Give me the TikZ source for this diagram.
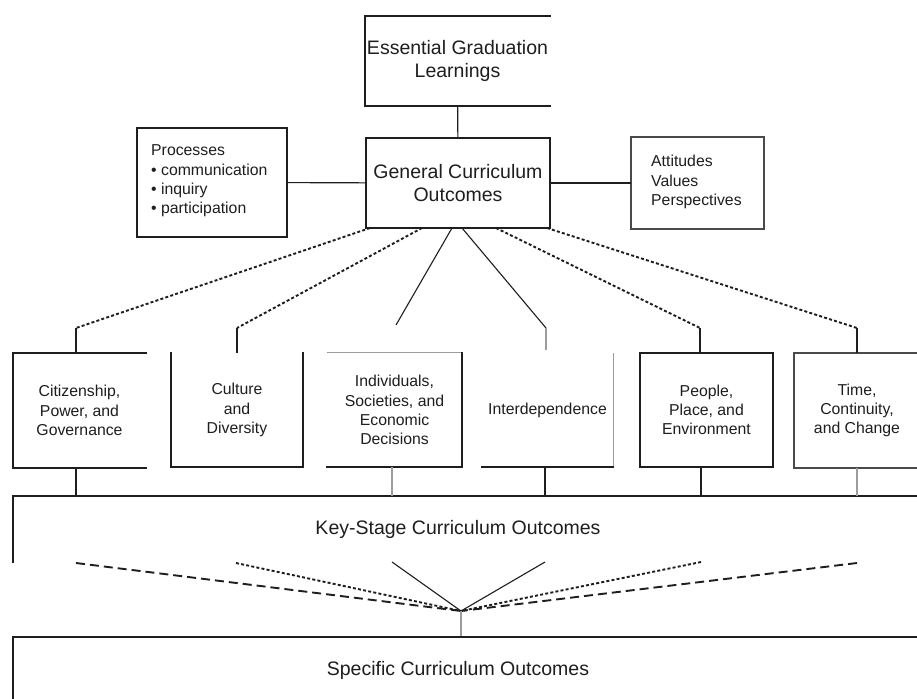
\documentclass[tikz,border=0pt]{standalone}
\usepackage{fontspec}
\setmainfont{Liberation Sans}
\usetikzlibrary{calc}
\definecolor{ink}{HTML}{1E1E1E}
\definecolor{lite}{HTML}{9C9C9C}
\definecolor{mid}{HTML}{4A4A4A}
\begin{document}
\begin{tikzpicture}[x=1pt,y=-1pt,
  edge/.style={line width=1.8pt, draw=ink, line cap=rect},
  liteedge/.style={line width=1.3pt, draw=lite},
  midedge/.style={line width=1.6pt, draw=mid},
  conn/.style={line width=1.1pt, draw=ink},
  liteconn/.style={line width=1.1pt, draw=lite},
  dotl/.style={line width=1.9pt, draw=ink, dash pattern=on 3pt off 2.2pt},
  dashl/.style={line width=1.9pt, draw=ink, dash pattern=on 9pt off 5pt},
  box/.style={rectangle, inner sep=0pt, align=center, text=ink},
  big/.style={font=\fontsize{19.5}{23.5}\selectfont},
  small/.style={font=\fontsize{15.8}{19.3}\selectfont},
]
\useasboundingbox[fill=white] (0,0) rectangle (917,698);
\coordinate (R) at (930,0);

% top level
\node[box,big,minimum width=185pt,minimum height=90pt] (egl) at (457.5,61) {Essential Graduation\\Learnings};
\node[box,big,minimum width=184pt,minimum height=90pt] (gco) at (458,183) {General Curriculum\\Outcomes};
\node[box,minimum width=150pt,minimum height=109pt] (proc) at (212,182.5) {};
\node[box,small,anchor=west,align=left] (proctext) at (151,181) {Processes\\\textbullet\ communication\\\textbullet\ inquiry\\\textbullet\ participation};
\node[box,minimum width=133pt,minimum height=92pt] (att) at (697.5,183) {};
\node[box,small,anchor=west,align=left] (atttext) at (651,182) {Attitudes\\Values\\Perspectives};

\draw[edge] (egl.north east) -- (egl.north west) -- (egl.south west) -- (egl.south east);
\draw[edge] (gco.north west) rectangle (gco.south east);
\draw[edge] (proc.north west) rectangle (proc.south east);
\draw[midedge] (att.north west) rectangle (att.south east);

\draw[conn] (egl) -- (gco);
\draw[conn] (proc) -- (gco);
\draw[conn] (gco) -- (att);

% strands
\node[box,small,minimum width=133pt,minimum height=115pt] (cit) at (79.5,410.5) {Citizenship,\\Power, and\\Governance};
\node[box,small,minimum width=132pt,minimum height=114pt] (cul) at (237,410) {Culture\\and\\Diversity};
\node[box,small,minimum width=135pt,minimum height=114pt] (ind) at (394.5,410) {Individuals,\\Societies, and\\Economic\\Decisions};
\node[box,small,minimum width=131pt,minimum height=114pt] (int) at (547.5,410) {Interdependence};
\node[box,small,minimum width=133pt,minimum height=114pt] (peo) at (706.5,410) {People,\\Place, and\\Environment};
\node[box,small,minimum width=126pt,minimum height=115pt] (tim) at (857,410.5) {Time,\\Continuity,\\and Change};

\draw[edge] (cit.north east) -- (cit.north west) -- (cit.south west) -- (cit.south east);
\draw[edge] (cul.north west) -- (cul.south west) -- (cul.south east) -- (cul.north east);
\draw[liteedge] (ind.north west) -- (ind.north east);
\draw[edge] (ind.north east) -- (ind.south east) -- (ind.south west);
\draw[liteedge] (int.north east) -- (int.south east);
\draw[edge] (int.south east) -- (int.south west);
\draw[edge] (peo.north west) rectangle (peo.south east);
\draw[midedge] (tim.north east) -- (tim.north west) -- (tim.south west) -- (tim.south east);

% fan from general outcomes
\coordinate (g1) at (370,228);
\coordinate (g2) at (422,228);
\coordinate (g3) at (452,228);
\coordinate (g4) at (462,228);
\coordinate (g5) at (496,228);
\coordinate (g6) at (547,228);
\coordinate (t1) at (76,328);
\coordinate (t2) at (237,328);
\coordinate (t3) at (396,325);
\coordinate (t4) at (546,328);
\coordinate (t5) at (700,328);
\coordinate (t6) at (857,328);
\draw[dotl] (g1) -- (t1);
\draw[dotl] (g2) -- (t2);
\draw[conn] (g3) -- (t3);
\draw[conn] (g4) -- (t4);
\draw[dotl] (g5) -- (t5);
\draw[dotl] (g6) -- (t6);
\draw[conn] (t1) -- (t1 |- cit.north);
\draw[conn] (t2) -- (t2 |- cul.north);
\draw[liteconn] (t4) -- ($(t4 |- int.north)+(0,-3)$);
\draw[conn] (t5) -- (t5 |- peo.north);
\draw[conn] (t6) -- (t6 |- tim.north);

% key-stage
\node[box,big,minimum width=890pt,minimum height=66pt] (key) at (458,529) {Key-Stage Curriculum Outcomes};
\draw[edge] (key.north -| R) -- (key.north west) -- (key.south west);

\coordinate (b1) at (76,0);
\coordinate (b2) at (392,0);
\coordinate (b3) at (545,0);
\coordinate (b4) at (701,0);
\coordinate (b5) at (857,0);
\draw[conn] (cit.south -| b1) -- (key.north -| b1);
\draw[liteconn] (ind.south -| b2) -- (key.north -| b2);
\draw[conn] (int.south -| b3) -- (key.north -| b3);
\draw[conn] (peo.south -| b4) -- (key.north -| b4);
\draw[liteconn] (tim.south -| b5) -- (key.north -| b5);

% fan to specific
\coordinate (c) at (461,611);
\coordinate (f1) at (76,563);
\coordinate (f2) at (236,563);
\coordinate (f3) at (392,562);
\coordinate (f4) at (545,562);
\coordinate (f5) at (701,562);
\coordinate (f6) at (857,563);
\draw[dashl] (f1) -- (c);
\draw[dotl] (f2) -- (c);
\draw[conn] (f3) -- (c);
\draw[conn] (f4) -- (c);
\draw[dotl] (f5) -- (c);
\draw[dashl] (f6) -- (c);

\node[box,big,minimum width=890pt,minimum height=66pt] (spec) at (458,670) {Specific Curriculum Outcomes};
\draw[liteconn] (c) -- (c |- spec.north);
\draw[edge] (spec.north -| R) -- (spec.north west) -- (spec.south west);
\end{tikzpicture}
\end{document}
